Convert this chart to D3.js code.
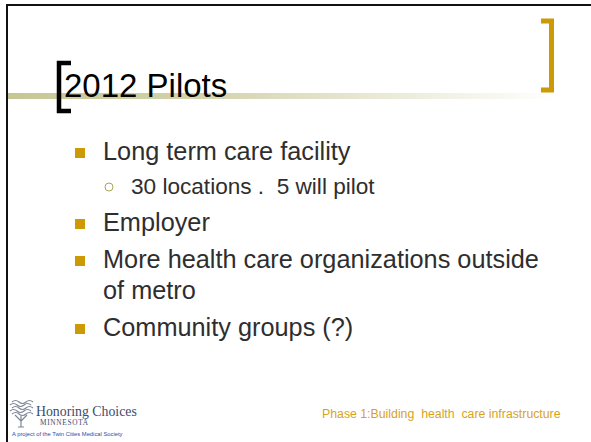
<!DOCTYPE html>
<html>
<head>
<meta charset="utf-8">
<script src="https://cdn.jsdelivr.net/npm/d3@7"></script>
<style>
  html, body { margin: 0; padding: 0; background: #fff; }
  svg { display: block; }
</style>
</head>
<body>
<div class="canvas"></div>
<script>
// slide content
const title = "2012 Pilots";
const bulletTexts = [
  ["Long term care facility"],
  ["30 locations .  5 will pilot"],
  ["Employer"],
  ["More health care organizations outside", "of metro"],
  ["Community groups (?)"]
];
const bulletLevels = [1, 2, 1, 1, 1];
const footerLeft = ["Honoring Choices", "MINNESOTA", "A project of the Twin Cities Medical Society"];
const footerRight = "Phase 1:Building  health  care infrastructure";

const width = 591;
const height = 442;
const gold = "#cc9a06";
const textColor = "#2e2e2e";
const sans = "'Liberation Sans', Arial, Helvetica, sans-serif";
const serif = "'Liberation Serif', 'Times New Roman', serif";

const svg = d3
  .select(".canvas")
  .append("svg")
  .attr("width", width)
  .attr("height", height);

const defs = svg.append("defs");
const grad = defs
  .append("linearGradient")
  .attr("id", "rule")
  .attr("x1", "0%")
  .attr("x2", "100%");
grad.append("stop").attr("offset", "0%").attr("stop-color", "#c6c695");
grad.append("stop").attr("offset", "35%").attr("stop-color", "#d3d3ad");
grad.append("stop").attr("offset", "100%").attr("stop-color", "#ffffff");

// frame (top + left edge)
svg.append("path")
  .attr("d", `M7,${height} V5 H${width}`)
  .attr("fill", "none")
  .attr("stroke", "#111")
  .attr("stroke-width", 2);

// title underline
svg.append("rect")
  .attr("x", 8)
  .attr("y", 93)
  .attr("width", 550)
  .attr("height", 6)
  .attr("fill", "url(#rule)");

// black bracket left of title
svg.append("path")
  .attr("d", "M71,63 H59 V111 H71")
  .attr("fill", "none")
  .attr("stroke", "#000")
  .attr("stroke-width", 4.5);

// gold bracket at the right
svg.append("path")
  .attr("d", "M541,21 H551.5 V90 H541")
  .attr("fill", "none")
  .attr("stroke", gold)
  .attr("stroke-width", 5);

svg.append("text")
  .attr("x", 64)
  .attr("y", 97)
  .attr("font-family", sans)
  .attr("font-size", 33)
  .attr("fill", "#000")
  .text(title);

// bullets
const bullets = bulletTexts.map((lines, i) => ({ lines, level: bulletLevels[i] }));
let cursor = 160;
bullets.forEach((b, i) => {
  if (i > 0) cursor += b.level === 1 ? 37 : 34;
  b.y = cursor;
  cursor += (b.lines.length - 1) * 31;
});

const g = svg.append("g");
const items = g.selectAll("g.item").data(bullets).enter().append("g").attr("class", "item");

items.filter((d) => d.level === 1)
  .append("rect")
  .attr("x", 75)
  .attr("y", (d) => d.y - 12)
  .attr("width", 10)
  .attr("height", 10)
  .attr("fill", gold);

items.filter((d) => d.level === 2)
  .append("circle")
  .attr("cx", 109)
  .attr("cy", (d) => d.y - 7)
  .attr("r", 4)
  .attr("fill", "none")
  .attr("stroke", "#a8a858")
  .attr("stroke-width", 1);

items.append("text")
  .attr("x", (d) => (d.level === 1 ? 103 : 131))
  .attr("y", (d) => d.y)
  .attr("font-family", sans)
  .attr("font-size", (d) => (d.level === 1 ? 25.3 : 22.6))
  .attr("fill", textColor)
  .style("white-space", "pre")
  .selectAll("tspan")
  .data((d) => d.lines)
  .enter()
  .append("tspan")
  .attr("x", function () { return d3.select(this.parentNode).attr("x"); })
  .attr("dy", (d, i) => (i === 0 ? 0 : 31))
  .text((d) => d);

// footer logo (tree / brain mark)
const logo = svg.append("g").attr("stroke", "#7d8797").attr("fill", "none").attr("stroke-width", 1.2);
[[402, 1], [405, 0], [408, 1], [411, 0], [414, 1]].forEach(([yy, o]) => {
  logo.append("path")
    .attr("d", `M${10 + o * 2},${yy} q3.5,-3 7,0 t7,0 t7,0`);
});
logo.append("path").attr("d", "M21,416 V427 M21,421 L15,415 M21,421 L27,415 M18,427 H24");

svg.append("text")
  .attr("x", 36)
  .attr("y", 416)
  .attr("font-family", serif)
  .attr("font-size", 13.8)
  .attr("fill", "#3d4b6d")
  .text(footerLeft[0]);

svg.append("text")
  .attr("x", 40)
  .attr("y", 425)
  .attr("font-family", serif)
  .attr("font-size", 7.3)
  .attr("letter-spacing", 0.7)
  .attr("fill", "#3d4b6d")
  .text(footerLeft[1]);

svg.append("text")
  .attr("x", 12)
  .attr("y", 436)
  .attr("font-family", sans)
  .attr("font-size", 5.8)
  .attr("fill", "#2f48a6")
  .text(footerLeft[2]);

svg.append("text")
  .attr("x", 322)
  .attr("y", 418)
  .attr("font-family", sans)
  .attr("font-size", 12.3)
  .attr("fill", "#d9a21b")
  .style("white-space", "pre")
  .text(footerRight);
</script>
</body>
</html>
